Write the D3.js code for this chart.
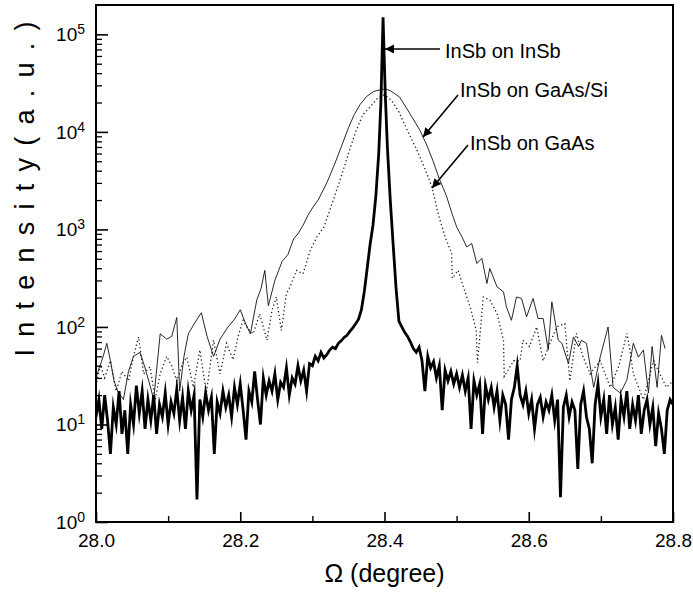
<!DOCTYPE html>
<html><head><meta charset="utf-8">
<script src="https://cdn.jsdelivr.net/npm/d3@7"></script>
<style>body{margin:0;background:#fff;} svg{display:block;}</style>
</head><body>
<svg id="c" width="693" height="592"></svg>
<script>
// ---- data ----
const xTicksMajor = [28.0, 28.2, 28.4, 28.6, 28.8];
const xTicksMinor = [28.1, 28.3, 28.5, 28.7];
const xTickLabels = ["28.0", "28.2", "28.4", "28.6", "28.8"];
const yTicksMajor = [1, 10, 100, 1000, 10000, 100000];
const yTickExponents = ["0", "1", "2", "3", "4", "5"];

// InSb on InSb (thick line)
const insbOmega = [28.000,28.004,28.008,28.012,28.016,28.020,28.024,28.028,28.032,28.036,28.040,28.044,28.048,28.052,28.056,28.060,28.064,28.068,28.072,28.076,28.080,28.084,28.088,28.092,28.096,28.100,28.104,28.108,28.112,28.116,28.120,28.124,28.128,28.132,28.136,28.140,28.144,28.148,28.152,28.156,28.160,28.164,28.168,28.172,28.176,28.180,28.184,28.188,28.192,28.196,28.200,28.204,28.208,28.212,28.216,28.220,28.224,28.228,28.232,28.236,28.240,28.244,28.248,28.252,28.256,28.260,28.264,28.268,28.272,28.276,28.280,28.284,28.288,28.292,28.296,28.300,28.304,28.308,28.312,28.316,28.320,28.324,28.328,28.332,28.336,28.340,28.344,28.348,28.352,28.356,28.360,28.364,28.368,28.372,28.376,28.380,28.384,28.388,28.392,28.395,28.398,28.401,28.404,28.408,28.412,28.416,28.420,28.424,28.428,28.432,28.436,28.440,28.444,28.448,28.452,28.456,28.460,28.464,28.468,28.472,28.476,28.480,28.484,28.488,28.492,28.496,28.500,28.504,28.508,28.512,28.516,28.520,28.524,28.528,28.532,28.536,28.540,28.544,28.548,28.552,28.556,28.560,28.564,28.568,28.572,28.576,28.580,28.584,28.588,28.592,28.596,28.600,28.604,28.608,28.612,28.616,28.620,28.624,28.628,28.632,28.636,28.640,28.644,28.648,28.652,28.656,28.660,28.664,28.668,28.672,28.676,28.680,28.684,28.688,28.692,28.696,28.700,28.704,28.708,28.712,28.716,28.720,28.724,28.728,28.732,28.736,28.740,28.744,28.748,28.752,28.756,28.760,28.764,28.768,28.772,28.776,28.780,28.784,28.788,28.792,28.796,28.800];
const insbIntensity = [12,18,9,20,11,5,15,10,22,8,14,5,16,10,25,13,22,9,18,11,20,8,16,12,21,10,17,13,23,11,19,9,22,14,20,1.7,18,12,21,14,19,5,17,13,22,15,20,12,24,16,26,14,7,22,17,35,18,10,30,20,28,22,33,18,27,24,38,20,30,26,40,28,36,22,42,40,50,45,55,48,52,58,62,60,68,72,78,82,90,98,108,120,150,230,400,700,1100,2200,6000,20000,150000,25000,7000,2000,700,250,115,100,88,80,70,60,55,62,45,22,50,38,44,30,40,14,36,28,35,26,33,24,32,22,30,9,28,20,26,8,25,18,24,15,22,11,20,16,7,18,24,40,20,16,22,13,18,9,16,19,12,17,14,20,11,18,1.8,15,20,12,17,14,3.5,16,22,12,9,4,16,26,12,18,8,20,10,15,7,18,12,22,9,16,11,20,8,14,18,10,15,6,13,9,5,14,18,16];

// InSb on GaAs/Si (thin solid line)
const siOmega = [28.000,28.005,28.010,28.015,28.020,28.025,28.030,28.038,28.045,28.052,28.061,28.068,28.075,28.080,28.089,28.098,28.105,28.112,28.116,28.122,28.128,28.137,28.146,28.154,28.163,28.172,28.183,28.192,28.200,28.207,28.214,28.223,28.229,28.234,28.239,28.248,28.258,28.266,28.274,28.280,28.287,28.294,28.301,28.308,28.320,28.330,28.340,28.350,28.358,28.366,28.375,28.385,28.394,28.401,28.408,28.421,28.435,28.449,28.458,28.467,28.476,28.486,28.493,28.500,28.507,28.514,28.521,28.528,28.535,28.542,28.546,28.556,28.565,28.569,28.576,28.583,28.590,28.597,28.606,28.613,28.620,28.627,28.632,28.641,28.646,28.655,28.662,28.669,28.673,28.680,28.690,28.699,28.710,28.717,28.727,28.736,28.745,28.752,28.759,28.766,28.771,28.778,28.784,28.789];
const siIntensity = [30,39,50,68,45,28,22,18,35,50,55,38,25,18,85,75,80,125,22,50,85,110,140,80,50,75,100,120,150,110,85,190,250,380,165,300,470,550,800,900,1100,1400,1700,2000,3000,4500,7000,11000,15000,19000,23000,26000,27000,27500,26500,22700,15500,10400,7500,5100,3300,2200,1500,1060,850,661,717,447,505,279,398,258,229,161,117,203,196,127,196,122,122,58,181,73,68,42,79,63,73,68,24,49,100,24,21,28.5,68,49,58,21,63,24,82,60];

// InSb on GaAs (dotted line)
const gaasOmega = [28.000,28.006,28.012,28.020,28.028,28.036,28.045,28.052,28.059,28.066,28.075,28.082,28.089,28.098,28.105,28.112,28.120,28.126,28.135,28.144,28.153,28.163,28.172,28.181,28.190,28.197,28.204,28.211,28.218,28.227,28.237,28.244,28.250,28.257,28.264,28.269,28.278,28.287,28.297,28.306,28.316,28.329,28.340,28.350,28.360,28.370,28.380,28.390,28.400,28.410,28.420,28.430,28.445,28.456,28.466,28.473,28.477,28.485,28.493,28.494,28.502,28.510,28.520,28.527,28.529,28.537,28.546,28.556,28.565,28.566,28.579,28.588,28.592,28.601,28.611,28.620,28.630,28.639,28.650,28.657,28.666,28.675,28.685,28.699,28.713,28.725,28.736,28.740,28.745,28.759,28.773,28.791,28.800];
const gaasIntensity = [25,41,30,45,22,35,28,50,79,33,39,18,33,50,40,28,42,49,24,58,21,73,33,68,46,80,117,95,85,136,73,147,203,92,220,258,380,350,610,830,1060,2000,3500,6000,10000,15000,18000,22000,24000,21000,16000,11000,6500,4200,2700,1600,1240,800,570,316,380,250,150,93,43,203,189,137,73,31,45,45,73,63,100,45,70,100,108,28,86,50,33,45,24,40,86,60,33,18,45,24,28];

// annotations: label, text anchor (omega, intensity), arrow tail, arrow tip
const annoLabels = ["InSb on InSb", "InSb on GaAs/Si", "InSb on GaAs"];
const annoTextOmega = [28.4839, 28.5047, 28.5185];
const annoTextIntensity = [57200, 22800, 6520];
const annoTailOmega = [28.4769, 28.5019, 28.5158];
const annoTailIntensity = [70800, 23900, 7340];
const annoTipOmega = [28.4007, 28.4534, 28.4659];
const annoTipIntensity = [70800, 8860, 2660];

// ---- layout ----
const L = 96, R = 673, T = 5, B = 522;
const FONT = "'Liberation Sans', Arial, Helvetica, sans-serif";
const svg = d3.select("#c");
const x = d3.scaleLinear().domain([28.0, 28.8]).range([L, R]);
const y = d3.scaleLog().domain([1, 2e5]).range([B, T]);

const clipId = "plotclip";
svg.append("defs").append("clipPath").attr("id", clipId)
  .append("rect").attr("x", L).attr("y", T).attr("width", R - L).attr("height", B - T);

const line = d3.line().x(d => x(d[0])).y(d => y(d[1]));
const zip = (a, b) => a.map((v, i) => [v, b[i]]);

const plot = svg.append("g").attr("clip-path", `url(#${clipId})`);
plot.append("path").datum(zip(gaasOmega, gaasIntensity)).attr("d", line)
  .attr("fill", "none").attr("stroke", "#222").attr("stroke-width", 1.3)
  .attr("stroke-dasharray", "1.3,2.6");
plot.append("path").datum(zip(siOmega, siIntensity)).attr("d", line)
  .attr("fill", "none").attr("stroke", "#111").attr("stroke-width", 0.9);
plot.append("path").datum(zip(insbOmega, insbIntensity)).attr("d", line)
  .attr("fill", "none").attr("stroke", "#000").attr("stroke-width", 2.8)
  .attr("stroke-linejoin", "miter").attr("stroke-miterlimit", 10);

// ---- axes ----
const gx = svg.append("g").attr("transform", `translate(0,${B})`)
  .call(d3.axisBottom(x).tickValues(xTicksMajor).tickSize(-10).tickPadding(12)
    .tickFormat((d, i) => xTickLabels[i]));
gx.select(".domain").remove();
gx.selectAll("line").attr("stroke-width", 1.6);
gx.selectAll("text").attr("font-family", FONT).attr("font-size", 19).attr("fill", "#000");

const gxm = svg.append("g").attr("transform", `translate(0,${B})`)
  .call(d3.axisBottom(x).tickValues(xTicksMinor).tickSize(-6).tickFormat(""));
gxm.select(".domain").remove();
gxm.selectAll("line").attr("stroke-width", 1.4);

const minorY = [];
yTicksMajor.forEach(dec => { for (let k = 2; k <= 9; k++) { const v = dec * k; if (v < 2e5) minorY.push(v); } });

const gy = svg.append("g").attr("transform", `translate(${L},0)`)
  .call(d3.axisLeft(y).tickValues(yTicksMajor).tickSize(-12).tickFormat(""));
gy.select(".domain").remove();
gy.selectAll("line").attr("stroke-width", 1.6);
const gym = svg.append("g").attr("transform", `translate(${L},0)`)
  .call(d3.axisLeft(y).tickValues(minorY).tickSize(-6).tickFormat(""));
gym.select(".domain").remove();
gym.selectAll("line").attr("stroke-width", 1.3);

// y tick labels 10^n
const yl = svg.append("g");
yTicksMajor.forEach((v, i) => {
  const t = yl.append("text").attr("x", L - 11).attr("y", y(v) + 7)
    .attr("text-anchor", "end").attr("font-family", FONT).attr("font-size", 19).attr("fill", "#000");
  t.append("tspan").text("10");
  t.append("tspan").attr("dy", -7).attr("font-size", 14).text(yTickExponents[i]);
});

// frame
svg.append("rect").attr("x", L).attr("y", T).attr("width", R - L).attr("height", B - T)
  .attr("fill", "none").attr("stroke", "#000").attr("stroke-width", 2);

// titles
svg.append("text").attr("x", (L + R) / 2).attr("y", 582)
  .attr("text-anchor", "middle").attr("font-family", FONT).attr("font-size", 25)
  .attr("fill", "#000").text("Ω (degree)");
svg.append("text").attr("transform", "translate(34,189) rotate(-90)")
  .attr("text-anchor", "middle").attr("font-family", FONT).attr("font-size", 27)
  .attr("fill", "#000").attr("textLength", 335).attr("lengthAdjust", "spacing")
  .text("I n t e n s i t y  ( a . u . )");

// annotations
const defs = svg.select("defs");
defs.append("marker").attr("id", "ah").attr("viewBox", "0 0 10 10")
  .attr("refX", 10).attr("refY", 5).attr("markerUnits", "userSpaceOnUse")
  .attr("markerWidth", 15).attr("markerHeight", 9).attr("orient", "auto")
  .append("path").attr("d", "M0,0 L10,5 L0,10 z").attr("fill", "#000");
annoLabels.forEach((lab, i) => {
  svg.append("line")
    .attr("x1", x(annoTailOmega[i])).attr("y1", y(annoTailIntensity[i]))
    .attr("x2", x(annoTipOmega[i])).attr("y2", y(annoTipIntensity[i]))
    .attr("stroke", "#000").attr("stroke-width", 1.6).attr("marker-end", "url(#ah)");
  svg.append("text").attr("x", x(annoTextOmega[i])).attr("y", y(annoTextIntensity[i]))
    .attr("font-family", FONT).attr("font-size", 20).attr("fill", "#000").text(lab);
});
</script>
</body></html>
